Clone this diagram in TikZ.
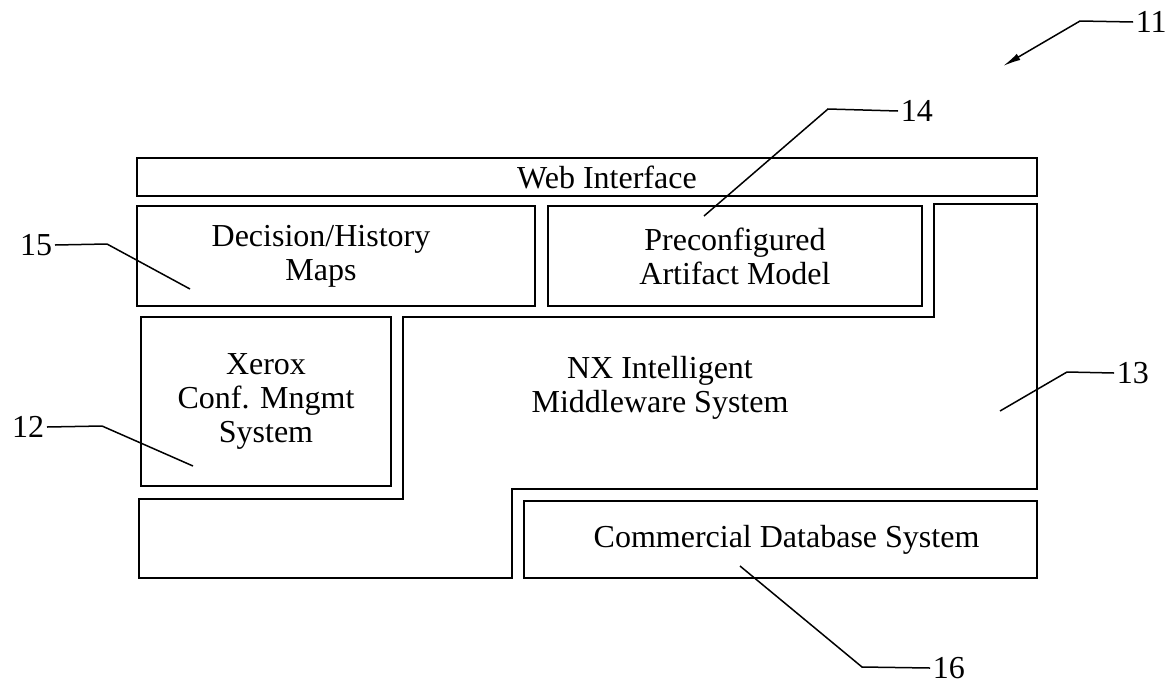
\documentclass[tikz,border=0pt]{standalone}
\usepackage{fontspec}
\setmainfont{Liberation Serif}
\usetikzlibrary{arrows.meta}

\begin{document}
\begin{tikzpicture}[x=1pt,y=-1pt,line width=1.8pt,
                    >={Latex[length=18pt,width=7pt]},
                    font=\fontsize{32}{34}\selectfont]
  \tikzstyle{block}=[draw,rectangle,align=center,inner sep=0pt]
  \tikzstyle{refnum}=[inner sep=2pt]
  \tikzstyle{leader}=[line width=1.5pt]

  \useasboundingbox (0,0) rectangle (1172,686);

  % layers
  \node[block,minimum width=900pt,minimum height=38pt]  (web)   at (587,177)   {};
  \node[block,minimum width=398pt,minimum height=100pt] (maps)  at (336,256)   {};
  \node[block,minimum width=374pt,minimum height=100pt] (model) at (735,256)   {Preconfigured\\Artifact Model};
  \node[block,minimum width=250pt,minimum height=169pt] (xcm)   at (266,401.5) {Xerox\\Conf. Mngmt\\System};
  \node[block,minimum width=513pt,minimum height=77pt]  (cdb)   at (780.5,539.5) {};

  \node[xshift=20pt]               (webtxt)  at (web.center)  {Web Interface};
  \node[xshift=-15pt,align=center] (mapstxt) at (maps.center) {Decision/History\\Maps};
  \node[xshift=6pt]                (cdbtxt)  at (cdb.center)  {Commercial Database System};

  % middleware outline
  \draw (403,317) -- (934,317) -- (934,204) -- (1037,204) -- (1037,489)
        -- (512,489) -- (512,578) -- (139,578) -- (139,499) -- (403,499) -- cycle;
  \node[align=center] (nx) at (660,388) {NX Intelligent\\Middleware System};

  % reference numerals
  \node[refnum,anchor=west] (n11) at (1133,22)  {11};
  \node[refnum,anchor=west] (n14) at (898,111)  {14};
  \node[refnum,anchor=east] (n15) at (55,245)   {15};
  \node[refnum,anchor=east] (n12) at (47,427)   {12};
  \node[refnum,anchor=west] (n13) at (1114,373) {13};
  \node[refnum,anchor=west] (n16) at (930,668)  {16};

  \coordinate (k11) at (1080,21);  \coordinate (t11) at (1003,66);
  \coordinate (k14) at (828,109);  \coordinate (t14) at (704,216);
  \coordinate (k15) at (107,244);  \coordinate (t15) at (190,289);
  \coordinate (k12) at (102,426);  \coordinate (t12) at (193,466);
  \coordinate (k13) at (1067,372); \coordinate (t13) at (1000,411);
  \coordinate (k16) at (862,667);  \coordinate (t16) at (740,566);

  \draw[leader,->] (n11.west) -- (k11) -- (t11);
  \draw[leader] (n14.west) -- (k14) -- (t14);
  \draw[leader] (n15.east) -- (k15) -- (t15);
  \draw[leader] (n12.east) -- (k12) -- (t12);
  \draw[leader] (n13.west) -- (k13) -- (t13);
  \draw[leader] (n16.west) -- (k16) -- (t16);

\end{tikzpicture}
\end{document}
